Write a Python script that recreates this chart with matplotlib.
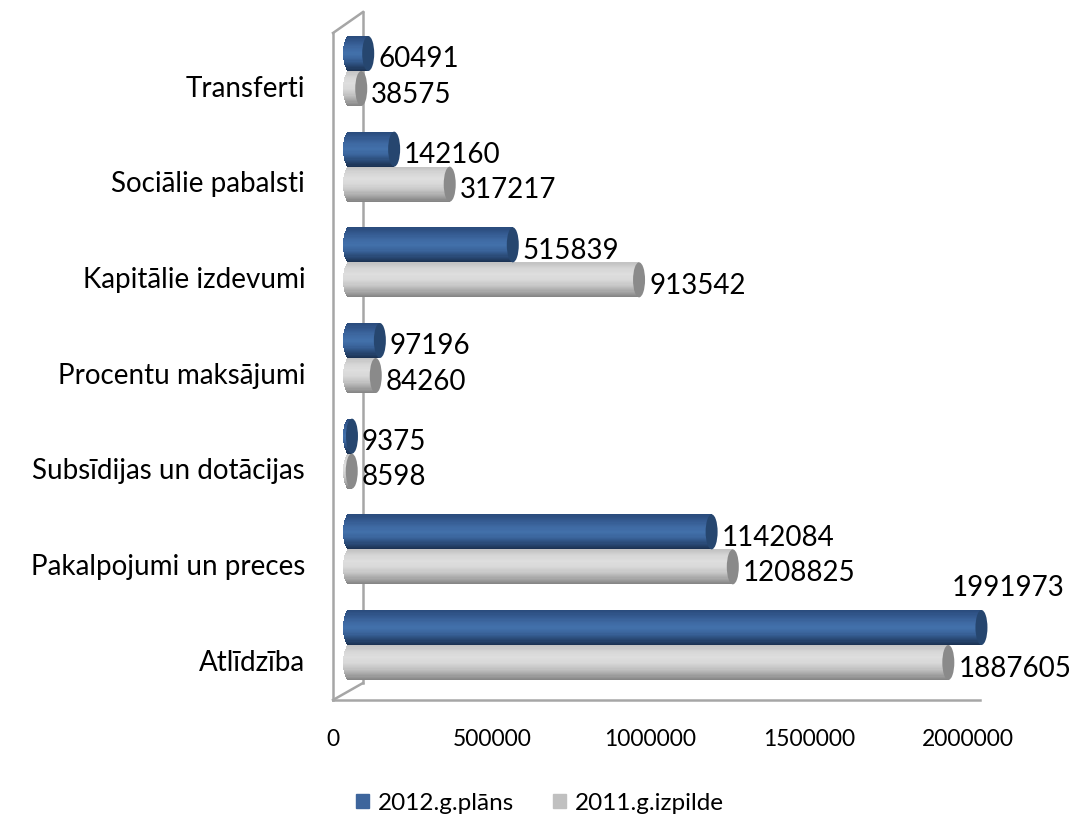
"""Izdevumu struktūra — 2012.g. plāns pret 2011.g. izpildi (cilindru joslas)"""
import numpy as np
import matplotlib
matplotlib.use('Agg')
import matplotlib.pyplot as plt
from matplotlib.patches import Ellipse, Patch
from matplotlib.transforms import offset_copy
from matplotlib.colors import LinearSegmentedColormap

plt.rcParams['font.family'] = ['Lato', 'DejaVu Sans']

categories = ['Atlīdzība', 'Pakalpojumi un preces', 'Subsīdijas un dotācijas',
              'Procentu maksājumi', 'Kapitālie izdevumi', 'Sociālie pabalsti', 'Transferti']
plan_2012 = [1991973, 1142084, 9375, 97196, 515839, 142160, 60491]
done_2011 = [1887605, 1208825, 8598, 84260, 913542, 317217, 38575]
series_names = ['2012.g.plāns', '2011.g.izpilde']
xticks = [0, 500000, 1000000, 1500000, 2000000]

# krāsu gradienti cilindriem (augša -> apakša)
blue_cm = LinearSegmentedColormap.from_list('b', ['#2a4c7d', '#34598f', '#3e68a1', '#4371ab', '#3a649b', '#2a4b78', '#1c3354'])
gray_cm = LinearSegmentedColormap.from_list('g', ['#c4c4c4', '#d6d6d6', '#dedede', '#d8d8d8', '#c6c6c6', '#a8a8a8', '#868686'])
blue_cap, gray_cap = '#26466f', '#8a8a8a'
legend_cols = ['#3d659c', '#c0c0c0']

W, H = 1073, 819
fig = plt.figure(figsize=(W / 100, H / 100), dpi=100)
ax = fig.add_axes([333 / W, 1 - 700 / H, 647 / W, 667 / H])
xmax = 647 / 635 * 2e6
ax.set_xlim(0, xmax)
ax.set_ylim(-0.418, 6.554)
for s in ax.spines.values():
    s.set_visible(False)

# 3D dziļuma nobīde joslām
tr = offset_copy(ax.transData, fig=fig, x=16, y=15, units='dots')
px = xmax / 647          # datu vienības uz pikseli
half = 6 * px
bh = 0.366
N = 30

y = np.arange(len(categories))
vmax = max(plan_2012 + done_2011)
for vals, sign, cm, capc in [(plan_2012, 1, blue_cm, blue_cap), (done_2011, -1, gray_cm, gray_cap)]:
    for yi, v in zip(y, vals):
        yc = yi + sign * bh / 2
        # ķermenis ar gradientu un noapaļotu kreiso galu
        for k in range(N):
            y0 = yc + bh / 2 - (k + 1) * bh / N
            t = (k + 0.5) / N * 2 - 1
            r = half * np.sqrt(1 - t * t)
            ax.barh(y0, v + r, height=bh / N, left=-r, align='edge', color=cm(k / (N - 1)),
                    linewidth=0, transform=tr, zorder=3, clip_on=False)
        # labais gals
        ax.add_patch(Ellipse((v, yc), 2 * half, bh, facecolor=capc, edgecolor='none',
                             transform=tr, zorder=4, clip_on=False))
        # vērtības
        if v == vmax:
            tt = offset_copy(ax.transData, fig=fig, x=16 + 27, y=15 + 40, units='dots')
            ax.text(v, yc, f'{v}', transform=tt, ha='center', va='center', fontsize=20, zorder=5)
        else:
            tt = offset_copy(ax.transData, fig=fig, x=16 + 10, y=15 - 6, units='dots')
            ax.text(v, yc, f'{v}', transform=tt, ha='left', va='center', fontsize=20, zorder=5)

# rāmis (3D sienas malas)
fc = '#a6a6a6'
bx = 30 / 647
for xs, ys in [([0, 0], [0, 1]), ([0, bx], [1, 1 + 21 / 667]), ([bx, bx], [1 + 21 / 667, 17 / 667]),
               ([0, bx], [0, 17 / 667]), ([0, 1], [0, 0])]:
    ax.plot(xs, ys, color=fc, lw=1.8, transform=ax.transAxes, clip_on=False, zorder=1)

ax.set_yticks(y)
ax.set_yticklabels(categories, fontsize=20)
ax.set_xticks(xticks)
ax.set_xticklabels([str(t) for t in xticks], fontsize=16.5)
ax.tick_params(axis='y', length=0, pad=20)
ax.tick_params(axis='x', length=0, pad=21)

handles = [Patch(color=c, label=n) for c, n in zip(legend_cols, series_names)]
fig.legend(handles=handles, loc='center', bbox_to_anchor=(540 / W, 1 - 803 / H), ncol=2,
           frameon=False, fontsize=17.5, handlelength=0.55, handleheight=0.55,
           handletextpad=0.35, columnspacing=1.6)

fig.savefig('out.png', dpi=100)
